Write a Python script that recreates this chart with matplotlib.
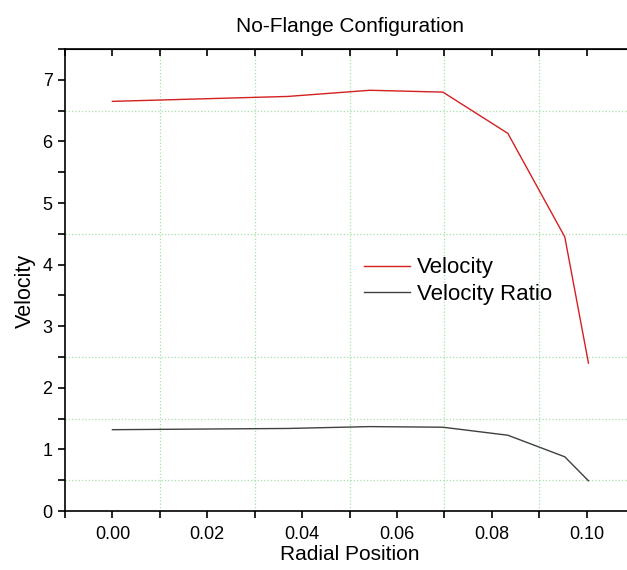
import matplotlib
matplotlib.use("Agg")
import matplotlib.pyplot as plt
from matplotlib.ticker import MultipleLocator

plt.rcParams["font.family"] = ["Liberation Sans", "DejaVu Sans"]

# data
radial = [0.0, 0.0370, 0.0543, 0.0697, 0.0834, 0.0954, 0.1004]
velocity = [6.65, 6.73, 6.83, 6.80, 6.13, 4.45, 2.40]
velocity_ratio = [1.32, 1.34, 1.37, 1.36, 1.23, 0.88, 0.49]

# grid levels that show in the original
grid_x = [0.01, 0.03, 0.05, 0.07, 0.09]
grid_y = [0.5, 1.5, 2.5, 4.5, 6.5]

fig = plt.figure(figsize=(6.27, 5.70), dpi=100)
ax = fig.add_axes([65 / 627, 59 / 570, 569 / 627, 462 / 570])

for gx in grid_x:
    ax.axvline(gx, color="#a8e0a8", ls=":", lw=0.9, zorder=0)
for gy in grid_y:
    ax.axhline(gy, color="#a8e0a8", ls=":", lw=0.9, zorder=0)

ax.plot(radial, velocity, color="#d42020", lw=1.0, label="Velocity")
ax.plot(radial, velocity_ratio, color="#404040", lw=1.0, label="Velocity Ratio")

ax.set_xlim(-0.01, 0.11)
ax.set_ylim(0, 7.5)
ax.xaxis.set_major_locator(MultipleLocator(0.02))
ax.xaxis.set_minor_locator(MultipleLocator(0.01))
ax.yaxis.set_major_locator(MultipleLocator(1))
ax.yaxis.set_minor_locator(MultipleLocator(0.5))
ax.xaxis.set_major_formatter(lambda v, p: f"{v:.2f}")

ax.tick_params(which="both", direction="out", length=5, width=1.2,
               labelsize=13, top=False, right=False)
ax.tick_params(axis="x", which="major", pad=6)
ax.tick_params(axis="y", which="major", pad=4)

# inward ticks on top and right, as in the original
top = ax.secondary_xaxis("top")
top.xaxis.set_major_locator(MultipleLocator(0.01))
top.tick_params(direction="in", length=5, width=1.2, labeltop=False)
right = ax.secondary_yaxis("right")
right.yaxis.set_major_locator(MultipleLocator(0.5))
right.tick_params(direction="in", length=5, width=1.2, labelright=False)

for s in ax.spines.values():
    s.set_linewidth(1.2)

ax.set_xlabel("Radial Position", fontsize=15, labelpad=1)
ax.set_ylabel("Velocity", fontsize=15.5)
ax.yaxis.set_label_coords(-0.052, 0.476)
ax.set_title("No-Flange Configuration", fontsize=15, pad=12)

ax.legend(loc="upper left", bbox_to_anchor=(0.509, 0.568), frameon=False,
          fontsize=16, handlelength=2.1, handletextpad=0.3, labelspacing=0.25,
          borderaxespad=0)

fig.savefig("out.png", dpi=100)
